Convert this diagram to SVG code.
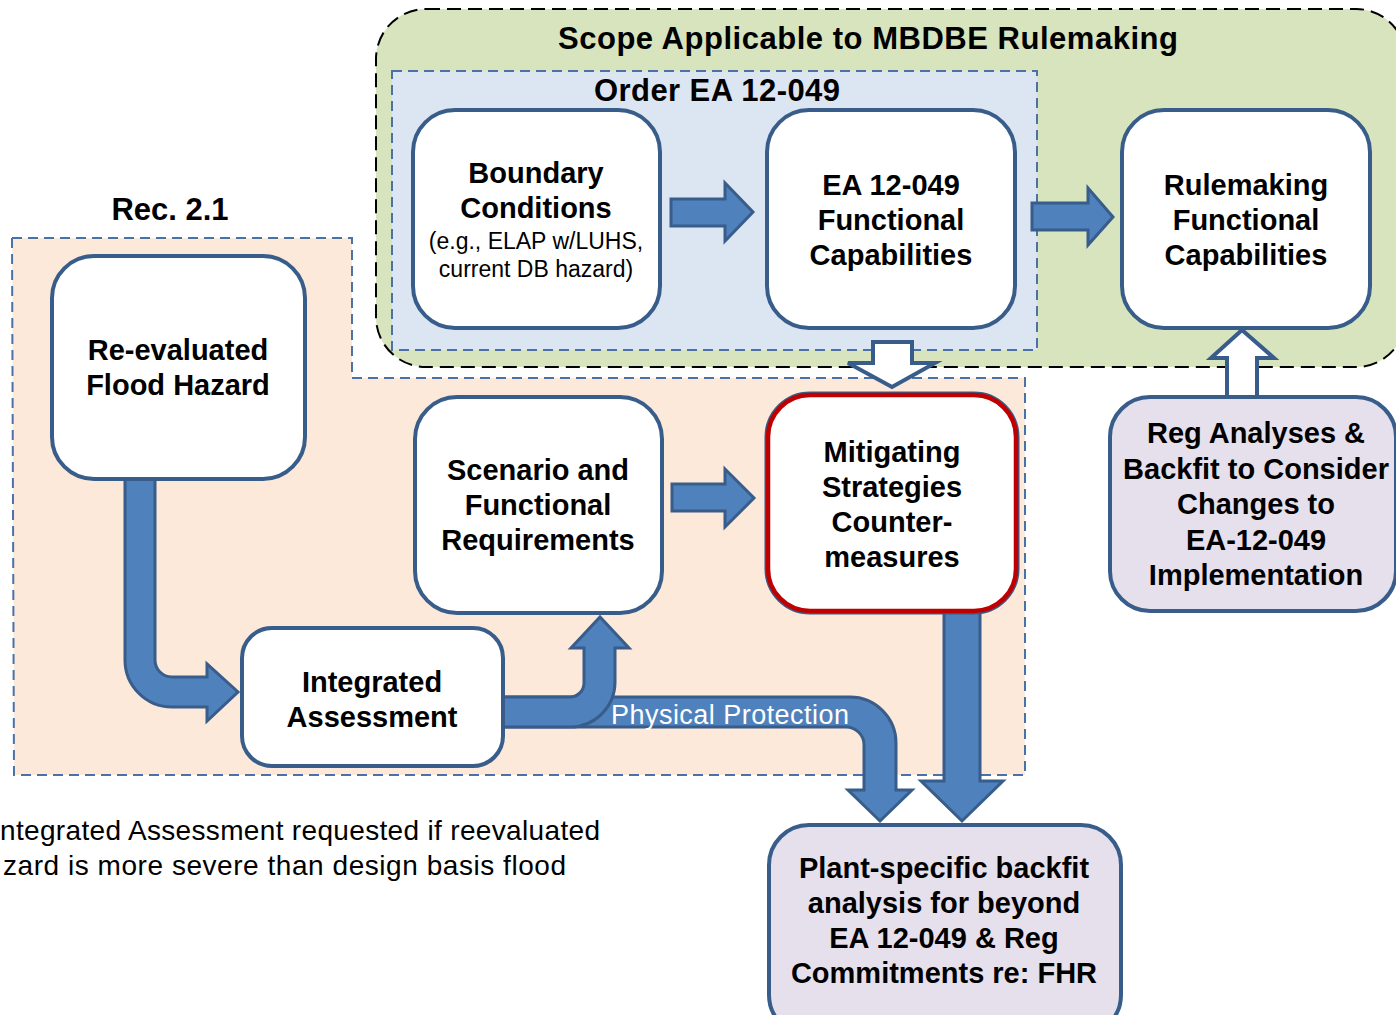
<svg xmlns="http://www.w3.org/2000/svg" width="1396" height="1015" viewBox="0 0 1396 1015">
  <style>
    text { font-family: "Liberation Sans", Arial, sans-serif; fill: #000; }
    .title { font-size: 31px; font-weight: bold; text-anchor: middle; }
    .lbl { font-size: 29px; font-weight: bold; text-anchor: middle; }
    .sub { font-size: 23px; text-anchor: middle; }
    .note { font-size: 28px; }
    .pp { font-size: 27px; fill: #fff; }
    .node { fill: #fff; stroke: #385d8a; stroke-width: 4; }
    .node.lav { fill: #e6e0ec; }
    .arrow { fill: #4f81bd; stroke: #385d8a; stroke-width: 3; stroke-linejoin: miter; }
    .hollow { fill: #fff; stroke: #385d8a; stroke-width: 4; stroke-linejoin: miter; }
  </style>

  <rect width="1396" height="1015" fill="#fff"/>

  <!-- scope region (rounded, black dashed) -->
  <g id="scope-region">
    <rect x="376" y="9" width="1030" height="358" rx="50" fill="#d7e4bd" stroke="#000" stroke-width="2" stroke-dasharray="14 7"/>
    <text class="title" x="868" y="49" textLength="620" lengthAdjust="spacing">Scope Applicable to MBDBE Rulemaking</text>
  </g>

  <!-- order region -->
  <g id="order-region">
    <rect x="392" y="71" width="645" height="279" fill="#dce6f2" stroke="#4a72a8" stroke-width="2" stroke-dasharray="10 6"/>
    <text class="title" x="717" y="101" textLength="246" lengthAdjust="spacing">Order EA 12-049</text>
  </g>

  <!-- Rec. 2.1 region (stepped outline) -->
  <g id="rec-region">
    <path d="M12,238 H352 V378 H1025 V775 H14 Z" fill="#fde9d9" stroke="#4a72a8" stroke-width="2" stroke-dasharray="10 6"/>
    <text class="title" x="170" y="220" font-size="29">Rec. 2.1</text>
  </g>

  <!-- connectors -->
  <g id="connectors">
    <!-- Boundary Conditions -> EA 12-049 -->
    <path class="arrow" d="M671,199 H725 V183 L753,212 L725,241 V226 H671 Z"/>
    <!-- EA 12-049 -> Rulemaking -->
    <path class="arrow" d="M1032,203 H1088 V188 L1113,217 L1088,245 V230 H1032 Z"/>
    <!-- Scenario -> Mitigating -->
    <path class="arrow" d="M672,484 H725 V469 L754,498 L725,527 V511 H672 Z"/>
    <!-- EA 12-049 -> Mitigating (hollow) -->
    <path class="hollow" d="M873,342 H912 V363 H935 L892,387 L848,363 H873 Z"/>
    <!-- Reg Analyses -> Rulemaking (hollow) -->
    <path class="hollow" d="M1227,398 V358 H1211 L1242,330 L1274,358 H1257 V398 Z"/>
    <!-- Re-evaluated -> Integrated (bent) -->
    <path class="arrow" d="M125,476 H155 V660 A17,17 0 0 0 172,677 H207 V664 L238,692 L207,721 V707 H172 A47,47 0 0 1 125,660 Z"/>
    <!-- Integrated -> Plant-specific (Physical Protection) -->
    <path class="arrow" d="M500,697 H850 A46,46 0 0 1 896,743 V790 H912 L880,821 L848,790 H864 V745 A18,18 0 0 0 846,727 H500 Z"/>
    <!-- Integrated -> Scenario -->
    <path class="arrow" d="M500,697 H570 A14,14 0 0 0 584,683 V648 H571 L600,617 L629,648 H615 V682 A45,45 0 0 1 570,727 H500 Z"/>
    <text class="pp" x="611" y="724" textLength="238" lengthAdjust="spacing">Physical Protection</text>
    <!-- Mitigating -> Plant-specific -->
    <path class="arrow" d="M944,608 H980 V781 H1003 L962,821 L921,781 H944 Z"/>
  </g>

  <g id="boundary-conditions">
    <rect class="node" x="413" y="110" width="247" height="218" rx="42"/>
    <text class="lbl" x="536" y="183">Boundary</text>
    <text class="lbl" x="536" y="218">Conditions</text>
    <text class="sub" x="536" y="249">(e.g., ELAP w/LUHS,</text>
    <text class="sub" x="536" y="277">current DB hazard)</text>
  </g>

  <g id="ea-functional-capabilities">
    <rect class="node" x="767" y="110" width="248" height="218" rx="42"/>
    <text class="lbl" x="891" y="195">EA 12-049</text>
    <text class="lbl" x="891" y="230">Functional</text>
    <text class="lbl" x="891" y="265">Capabilities</text>
  </g>

  <g id="rulemaking-functional-capabilities">
    <rect class="node" x="1122" y="110" width="248" height="218" rx="42"/>
    <text class="lbl" x="1246" y="195">Rulemaking</text>
    <text class="lbl" x="1246" y="230">Functional</text>
    <text class="lbl" x="1246" y="265">Capabilities</text>
  </g>

  <g id="reevaluated-flood-hazard">
    <rect class="node" x="52" y="256" width="253" height="223" rx="42"/>
    <text class="lbl" x="178" y="360">Re-evaluated</text>
    <text class="lbl" x="178" y="395">Flood Hazard</text>
  </g>

  <g id="scenario-requirements">
    <rect class="node" x="415" y="397" width="247" height="216" rx="42"/>
    <text class="lbl" x="538" y="480">Scenario and</text>
    <text class="lbl" x="538" y="515">Functional</text>
    <text class="lbl" x="538" y="550">Requirements</text>
  </g>

  <g id="mitigating-strategies">
    <rect x="768" y="395" width="248" height="216" rx="42" fill="#fff" stroke="#385d8a" stroke-width="7"/>
    <rect x="768" y="395" width="248" height="216" rx="42" fill="#fff" stroke="#c00000" stroke-width="4.5"/>
    <text class="lbl" x="892" y="462">Mitigating</text>
    <text class="lbl" x="892" y="497">Strategies</text>
    <text class="lbl" x="892" y="532">Counter-</text>
    <text class="lbl" x="892" y="567">measures</text>
  </g>

  <g id="integrated-assessment">
    <rect class="node" x="242" y="628" width="261" height="138" rx="30"/>
    <text class="lbl" x="372" y="692">Integrated</text>
    <text class="lbl" x="372" y="727">Assessment</text>
  </g>

  <g id="reg-analyses">
    <rect class="node lav" x="1110" y="397" width="286" height="214" rx="40"/>
    <text class="lbl" x="1256" y="443">Reg Analyses &amp;</text>
    <text class="lbl" x="1256" y="479">Backfit to Consider</text>
    <text class="lbl" x="1256" y="514">Changes to</text>
    <text class="lbl" x="1256" y="550">EA-12-049</text>
    <text class="lbl" x="1256" y="585">Implementation</text>
  </g>

  <g id="plant-specific-backfit">
    <rect class="node lav" x="769" y="825" width="352" height="210" rx="40"/>
    <text class="lbl" x="944" y="878">Plant-specific backfit</text>
    <text class="lbl" x="944" y="913">analysis for beyond</text>
    <text class="lbl" x="944" y="948">EA 12-049 &amp; Reg</text>
    <text class="lbl" x="944" y="983">Commitments re: FHR</text>
  </g>

  <!-- footnote -->
  <g id="footnote">
    <text class="note" x="0" y="840" textLength="600" lengthAdjust="spacing">ntegrated Assessment requested if reevaluated</text>
    <text class="note" x="3" y="875" textLength="563" lengthAdjust="spacing">zard is more severe than design basis flood</text>
  </g>
</svg>
